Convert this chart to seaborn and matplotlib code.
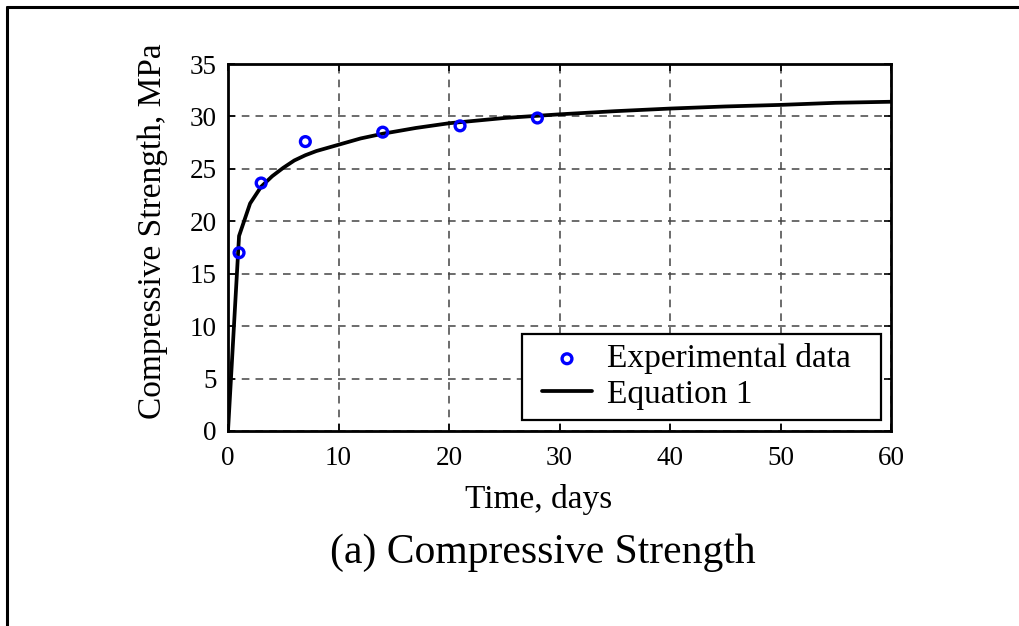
import matplotlib
matplotlib.use("Agg")
import matplotlib.pyplot as plt
import seaborn as sns
import pandas as pd
from matplotlib.lines import Line2D
from matplotlib.collections import PathCollection
from matplotlib.legend_handler import HandlerLine2D, HandlerPathCollection

# Experimental data
exp_time = [1, 3, 7, 14, 21, 28]
exp_strength = [17.0, 23.65, 27.6, 28.5, 29.1, 29.85]

# Equation 1 curve
eq_time = [0, 1, 2, 3, 4, 5, 6, 7, 8, 10, 12, 14, 17, 20, 25, 30, 35, 40, 45, 50, 55, 60]
eq_strength = [0.0, 18.6, 21.7, 23.3, 24.3, 25.1, 25.8, 26.3, 26.7, 27.3, 27.9, 28.35,
               28.9, 29.35, 29.85, 30.2, 30.5, 30.75, 30.95, 31.1, 31.3, 31.4]

x_ticks = [0, 10, 20, 30, 40, 50, 60]
y_ticks = [0, 5, 10, 15, 20, 25, 30, 35]

sns.set_theme(style="white")
plt.rcParams['font.family'] = ['Liberation Serif', 'DejaVu Serif']
plt.rcParams['mathtext.fontset'] = 'stix'
plt.rcParams['text.color'] = 'black'
plt.rcParams['axes.labelcolor'] = 'black'

W, H = 1019, 626
fig = plt.figure(figsize=(W / 100, H / 100), dpi=100)
fig.patch.set_facecolor('white')
ax = fig.add_axes([228 / W, 1 - 431 / H, (891 - 228) / W, (431 - 64) / H])

df_exp = pd.DataFrame({"t": exp_time, "s": exp_strength})
df_eq = pd.DataFrame({"t": eq_time, "s": eq_strength})

sns.lineplot(data=df_eq, x="t", y="s", ax=ax, color="black", linewidth=2.7,
             label="Equation 1", zorder=3)
sns.scatterplot(data=df_exp, x="t", y="s", ax=ax, marker="o", s=50,
                facecolors="none", edgecolor="#0000ff", linewidth=2.4,
                label="Experimental data", zorder=4)

ax.set_xlim(0, 60)
ax.set_ylim(0, 35)
ax.set_xticks(x_ticks)
ax.set_yticks(y_ticks)
ax.set_xticklabels([str(v) for v in x_ticks])
ax.set_yticklabels([str(v) for v in y_ticks])

ax.grid(True, linestyle=(0, (5, 4)), color="#444444", linewidth=1.1)
ax.set_axisbelow(True)
for sp in ax.spines.values():
    sp.set_visible(True)
    sp.set_color("black")
    sp.set_linewidth(2.0)
ax.tick_params(axis="both", which="both", direction="in", length=5, width=1.2,
               top=True, right=True, bottom=True, left=True,
               labelsize=19.5, colors="black")
ax.tick_params(axis="y", pad=8)
ax.tick_params(axis="x", pad=11)

ax.set_xlabel("Time, days", fontsize=24, color="black")
ax.set_ylabel("Compressive Strength, MPa", fontsize=24, color="black")
ax.xaxis.set_label_coords((539 - 228) / 663, (431 - 484) / 367)
ax.yaxis.set_label_coords((168 - 228) / 663, (431 - 231.5) / 367)

handles, labels = ax.get_legend_handles_labels()
order = [labels.index("Experimental data"), labels.index("Equation 1")]
leg = ax.legend([handles[i] for i in order], [labels[i] for i in order],
                loc="lower left",
                bbox_to_anchor=((522 - 228) / 663, (431 - 420) / 367, (881 - 522) / 663, 0.0),
                mode="expand",
                fontsize=24, frameon=True, fancybox=False,
                edgecolor="black", framealpha=1, handlelength=1.8,
                borderpad=0.3, labelspacing=0.15, handletextpad=0.45,
                borderaxespad=0, labelcolor="black",
                handler_map={PathCollection: HandlerPathCollection(xpad=0.3),
                             Line2D: HandlerLine2D(xpad=0.3)})
leg.get_frame().set_linewidth(1.6)

fig.text(543 / W, 1 - 553 / H, "(a) Compressive Strength", fontsize=30,
         ha="center", va="center", color="black")

# figure frame (top and left)
fig.add_artist(Line2D([7 / W, 1.0], [1 - 7 / H, 1 - 7 / H], transform=fig.transFigure,
                      color="black", linewidth=2.2))
fig.add_artist(Line2D([7 / W, 7 / W], [0.0, 1 - 7 / H], transform=fig.transFigure,
                      color="black", linewidth=2.2))

fig.savefig("out.png", dpi=100, facecolor="white")
